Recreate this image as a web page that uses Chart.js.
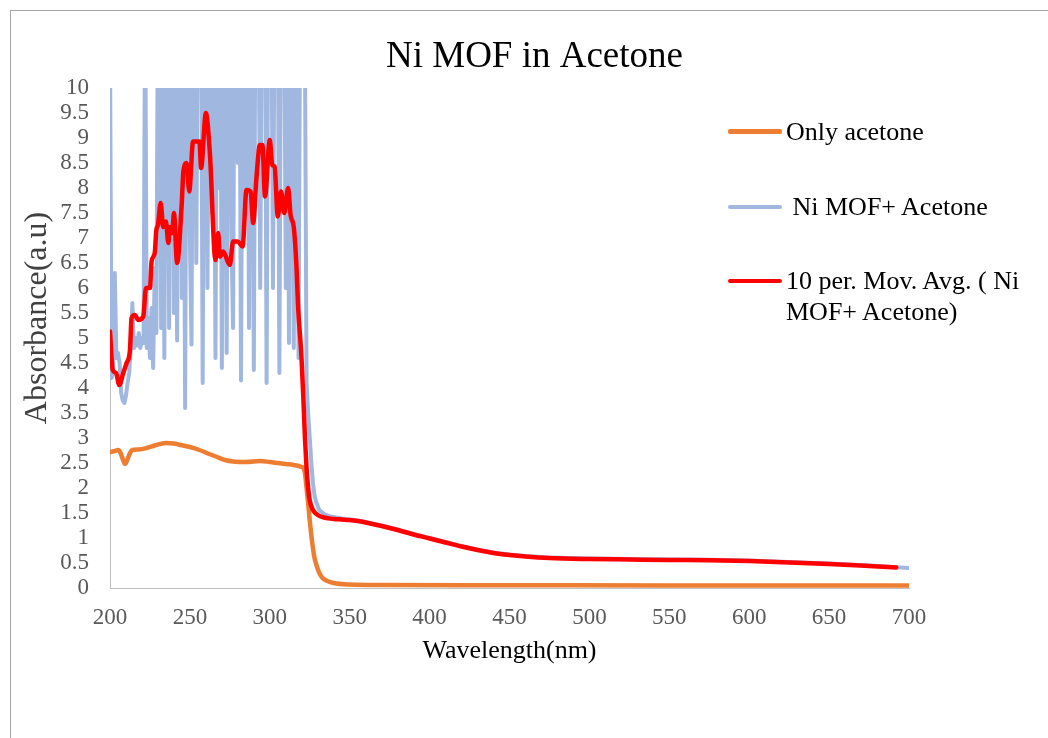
<!DOCTYPE html>
<html>
<head>
<meta charset="utf-8">
<script src="https://cdn.jsdelivr.net/npm/chart.js@4.4.1/dist/chart.umd.min.js"></script>
<style>
  html, body { margin: 0; padding: 0; background: #fff; overflow: hidden; }
  #wrap { position: relative; width: 1048px; height: 738px; }
  #frame { position: absolute; left: 10px; top: 10px; width: 1100px; height: 800px; border: 1px solid #a6a6a6; box-sizing: border-box; }
  #chart { position: absolute; left: 0; top: 0; }
  #legend { position: absolute; left: 0; top: 0; font-family: "Liberation Serif", "Times New Roman", serif; font-size: 26px; color: #000; }
  .item { position: absolute; left: 786px; width: 255px; line-height: 31px; white-space: pre-wrap; }
  .swatch { position: absolute; left: 728px; width: 54px; border-radius: 2px; }
</style>
</head>
<body>
<div id="wrap">
  <div id="frame"></div>
  <canvas id="chart" width="1048" height="738"></canvas>
  <div id="legend"></div>
</div>
<script>
  // Only acetone (orange)
  const acetoneNm = [200, 203, 205, 206, 207.5, 209.5, 211, 212.5, 214, 218, 223, 228, 235, 240, 244, 250, 256, 262, 267, 272, 277, 285, 294, 300, 305, 310, 315, 319, 321, 322, 323, 324, 325, 326, 327, 328, 329, 330, 331, 333, 336, 340, 350, 370, 450, 550, 700];
  const acetoneAbs = [2.72, 2.74, 2.76, 2.74, 2.62, 2.48, 2.58, 2.7, 2.76, 2.77, 2.8, 2.85, 2.9, 2.89, 2.86, 2.82, 2.76, 2.68, 2.62, 2.56, 2.53, 2.52, 2.54, 2.52, 2.5, 2.48, 2.46, 2.43, 2.4, 2.3, 2.0, 1.7, 1.35, 1.05, 0.8, 0.6, 0.48, 0.38, 0.3, 0.2, 0.14, 0.1, 0.07, 0.06, 0.055, 0.05, 0.05];

  // Ni MOF + Acetone (light blue, raw spectrum, clipped at 10 by the axis)
  const mofNm = [
    200, 201, 202, 203, 204, 205, 206, 207, 208, 209, 210, 211, 212, 213, 214, 215, 216, 217, 218, 219,
    220, 221, 222, 223, 224, 225, 226, 227, 228, 229, 230, 231, 232, 233, 234, 235, 236, 237, 238, 239,
    240, 241, 242, 243, 244, 245, 246, 247, 248, 249, 250, 251, 252, 253, 254, 255, 256, 257, 258, 259,
    260, 261, 262, 263, 264, 265, 266, 267, 268, 269, 270, 271, 272, 273, 274, 275, 276, 277, 278, 279,
    280, 281, 282, 283, 284, 285, 286, 287, 288, 289, 290, 291, 292, 293, 294, 295, 296, 297, 298, 299,
    300, 301, 302, 303, 304, 305, 306, 307, 308, 309, 310, 311, 312, 313, 314, 315, 316, 317, 318, 319,
    320, 321, 322, 323, 324, 325, 326, 327, 328, 329, 331, 334, 338, 345, 350, 355, 360, 370, 380, 390,
    400, 410, 420, 430, 440, 450, 460, 475, 500, 525, 550, 575, 600, 625, 650, 675, 690, 700
  ];
  const mofAbs = [
    10.8, 4.2, 4.3, 6.3, 4.6, 4.7, 4.5, 3.9, 3.75, 3.7, 3.85, 4.1, 4.3, 4.8, 5.7, 4.8, 5.0, 4.85, 5.1, 4.8,
    5.0, 4.9, 12, 4.8, 5.4, 4.6, 5.6, 4.4, 6.4, 5.1, 12, 12, 5.2, 12, 4.6, 12, 12, 5.2, 12, 12,
    5.5, 12, 4.95, 12, 12, 5.8, 12, 3.6, 12, 12, 7.0, 4.87, 12, 12, 6.5, 12, 12, 12, 4.1, 12,
    12, 6.0, 12, 12, 7.5, 12, 4.6, 12, 8.0, 12, 4.4, 12, 12, 4.7, 12, 12, 7.0, 5.2, 12, 12,
    8.5, 12, 4.15, 12, 12, 7.5, 12, 5.2, 12, 12, 4.36, 12, 12, 12, 6.0, 12, 12, 12, 4.1, 12,
    12, 12, 6.0, 12, 12, 12, 4.3, 12, 12, 12, 6.0, 12, 4.9, 12, 12, 4.8, 12, 12, 4.6, 12,
    12, 12, 10.8, 4.1, 3.5, 3.0, 2.5, 2.1, 1.85, 1.72, 1.56, 1.48, 1.43, 1.39, 1.37, 1.35, 1.32, 1.25, 1.17, 1.08,
    1.0, 0.92, 0.84, 0.77, 0.71, 0.67, 0.64, 0.61, 0.59, 0.58, 0.57, 0.565, 0.55, 0.52, 0.49, 0.45, 0.42, 0.4
  ];

  // 10 per. moving average (red)
  const avgNm = [
    200, 201.7, 203.8, 205.8, 208.3, 210.4, 212.5, 213.5, 215.6, 217.7, 220.8, 222.5, 225, 226, 228, 229, 230, 231.7, 233.3, 235,
    236.5, 237.5, 239, 240, 242, 244.8, 246, 248, 249.6, 252, 256, 257, 260, 262.5, 266, 267.7, 268.8, 270.8, 275, 277,
    280, 283, 285.4, 288, 289.6, 291.7, 293.8, 295.4, 297, 300, 301.5, 303, 305, 307, 309, 311.5, 313, 315, 316.7, 317.7,
    319.8, 321, 322, 323, 324, 325, 327, 330, 334, 340, 345, 350, 355, 360, 370, 380, 390, 400, 410, 420,
    430, 440, 450, 460, 475, 500, 525, 550, 575, 600, 625, 650, 675, 692
  ];
  const avgAbs = [
    5.13, 4.36, 4.3, 4.06, 4.3, 4.5, 4.76, 5.4, 5.46, 5.36, 5.43, 6.0, 6.0, 6.53, 6.7, 7.16, 7.26, 7.7, 7.22, 7.33,
    6.9, 7.22, 7.1, 7.5, 6.5, 7.63, 8.36, 8.5, 7.93, 8.93, 8.93, 8.4, 9.5, 8.7, 6.56, 7.1, 6.63, 6.73, 6.46, 6.93,
    6.93, 6.83, 7.96, 7.93, 7.3, 8.23, 8.86, 8.86, 7.83, 8.96, 8.46, 8.43, 7.43, 7.93, 7.5, 8.0, 7.46, 7.22, 6.43, 5.63,
    4.63, 3.8, 3.0, 2.4, 2.0, 1.75, 1.56, 1.46, 1.41, 1.38, 1.37, 1.36, 1.34, 1.31, 1.24, 1.16, 1.07, 0.99, 0.91, 0.83,
    0.76, 0.7, 0.66, 0.63, 0.6, 0.58, 0.57, 0.56, 0.555, 0.54, 0.51, 0.48, 0.44, 0.41
  ];

  const serif = '"Liberation Serif", "Times New Roman", serif';

  function toPoints(xs, ys) {
    return xs.map((x, i) => ({ x, y: ys[i] }));
  }

  const chart = new Chart(document.getElementById("chart"), {
    type: "line",
    data: {
      datasets: [
        { label: "Only acetone", data: toPoints(acetoneNm, acetoneAbs), borderColor: "#ED7D31", borderWidth: 4.5, order: 3, cubicInterpolationMode: "monotone" },
        { label: " Ni MOF+ Acetone", data: toPoints(mofNm, mofAbs), borderColor: "#A0B7E0", borderWidth: 4, order: 2, tension: 0 },
        { label: "10 per. Mov. Avg. ( Ni MOF+ Acetone)", data: toPoints(avgNm, avgAbs), borderColor: "#FF0000", borderWidth: 4.5, order: 1, cubicInterpolationMode: "monotone" }
      ]
    },
    options: {
      responsive: false,
      animation: false,
      devicePixelRatio: 1,
      layout: { padding: { left: 21, right: 0, top: 0, bottom: 0 } },
      elements: {
        point: { radius: 0, hoverRadius: 0 },
        line: { borderJoinStyle: "round", borderCapStyle: "round", fill: false }
      },
      plugins: {
        legend: { display: false },
        tooltip: { enabled: false },
        title: {
          display: true,
          text: "Ni MOF in Acetone",
          color: "#000",
          font: { family: serif, size: 37, weight: "normal" },
          padding: { top: 35, bottom: 8.6 }
        }
      },
      scales: {
        x: {
          type: "linear",
          min: 200,
          max: 700,
          ticks: { stepSize: 50, color: "#595959", font: { family: serif, size: 23 }, padding: 16, maxRotation: 0, autoSkip: false },
          grid: { display: false, drawTicks: false },
          border: { display: true, color: "#bfbfbf", width: 1 },
          title: { display: true, text: "Wavelength(nm)", color: "#000", font: { family: serif, size: 26 }, padding: { top: 0, bottom: 71 } },
          afterFit: (scale) => { scale.height = 150; }
        },
        y: {
          min: 0,
          max: 10,
          ticks: {
            stepSize: 0.5,
            color: "#595959",
            font: { family: serif, size: 23 },
            padding: 21,
            autoSkip: false,
            callback: (value) => String(Math.round(value * 10) / 10)
          },
          grid: { display: false, drawTicks: false },
          border: { display: true, color: "#bfbfbf", width: 1 },
          // leading spaces nudge the rotated title upward, as in the original
          title: { display: true, text: "     Absorbance(a.u)", color: "#404040", font: { family: serif, size: 32, lineHeight: 1 }, padding: { top: 1, bottom: 0 } },
          afterFit: (scale) => { scale.width = 89; }
        },
        y2: {
          position: "right",
          display: true,
          grid: { display: false, drawTicks: false },
          border: { display: false },
          ticks: { display: false },
          afterFit: (scale) => { scale.width = 139; }
        }
      }
    }
  });

  // legend on the right, built from the datasets
  const legendEl = document.getElementById("legend");
  const legendTops = [115.7, 190.7, 265];
  const lineCenters = [131.7, 206.5, 281];
  chart.data.datasets.forEach((ds, i) => {
    const sw = document.createElement("div");
    sw.className = "swatch";
    const h = ds.borderWidth;
    sw.style.top = (lineCenters[i] - h / 2) + "px";
    sw.style.height = h + "px";
    sw.style.background = ds.borderColor;
    legendEl.appendChild(sw);

    const item = document.createElement("div");
    item.className = "item";
    item.style.top = legendTops[i] + "px";
    item.textContent = ds.label;
    legendEl.appendChild(item);
  });
</script>
</body>
</html>
